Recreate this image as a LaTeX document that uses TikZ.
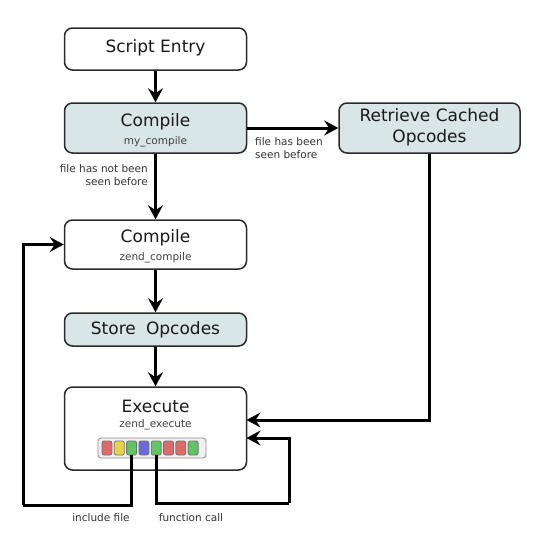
\documentclass[tikz,border=0pt]{standalone}
\usepackage{fontspec}
\setmainfont{DejaVu Sans}
\usetikzlibrary{arrows.meta}
\definecolor{boxfill}{HTML}{D8E6E5}
\definecolor{boxline}{HTML}{2A2A2A}
\definecolor{cred}{HTML}{E06A6A}
\definecolor{cyel}{HTML}{E8D44A}
\definecolor{cgrn}{HTML}{62C462}
\definecolor{cblu}{HTML}{6A6AD8}
\tikzset{
  box/.style={draw=boxline, line width=1.5pt, rounded corners=8pt, minimum width=182pt, inner sep=0pt},
  shaded/.style={box, fill=boxfill},
  plain/.style={box, fill=white},
  title/.style={font=\fontsize{17}{19}\selectfont, inner sep=0pt, text=black!90},
  sub/.style={font=\fontsize{10.5}{12}\selectfont, inner sep=0pt, text=black!75},
  lbl/.style={font=\fontsize{10.5}{13}\selectfont, inner sep=0pt, text=black!80},
  conn/.style={line width=3pt, -{Stealth[length=14pt,width=15pt,inset=5pt]}},
  line/.style={line width=3pt},
  cell/.style={draw=black!55, line width=0.8pt, rounded corners=2pt, minimum width=10pt, minimum height=14pt, inner sep=0pt},
}
\begin{document}
\begin{tikzpicture}[x=1pt,y=-1pt]
\useasboundingbox[fill=white] (0,0) rectangle (538,555);

% boxes
\node[plain, minimum height=42pt] (script) at (155.5,49) {};
\node[title] (scriptT) at (155.5,48) {Script Entry};

\node[shaded, minimum height=50pt] (comp1) at (155.5,128) {};
\node[title] (comp1T) at (155.5,122) {Compile};
\node[sub] (comp1S) at (155.5,142) {my\_compile};

\node[shaded, minimum height=50pt, minimum width=181pt] (retr) at (429.5,128) {};
\node[title, align=center] (retrT) at (429.5,127) {Retrieve Cached\\[2pt]Opcodes};

\node[plain, minimum height=49pt] (comp2) at (155.5,244.5) {};
\node[title] (comp2T) at (155.5,238) {Compile};
\node[sub] (comp2S) at (155.5,258) {zend\_compile};

\node[shaded, minimum height=33pt] (store) at (155.5,329.5) {};
\node[title] (storeT) at (155.5,330) {Store\hspace{0.6em}Opcodes};

\node[plain, minimum height=83pt] (exec) at (155.5,428.5) {};
\node[title] (execT) at (155.5,406) {Execute};
\node[sub] (execS) at (155.5,425) {zend\_execute};

% opcode bar
\node[draw=black!45, fill=black!6, line width=0.8pt, rounded corners=3pt, minimum width=108pt, minimum height=20pt, inner sep=0pt] (bar) at (152,448) {};
\node[cell, fill=cred] (c1) at (107,448) {};
\node[cell, fill=cyel] (c2) at (119.3,448) {};
\node[cell, fill=cgrn] (c3) at (131.6,448) {};
\node[cell, fill=cblu] (c4) at (143.9,448) {};
\node[cell, fill=cgrn] (c5) at (156.2,448) {};
\node[cell, fill=cred] (c6) at (168.5,448) {};
\node[cell, fill=cred] (c7) at (180.8,448) {};
\node[cell, fill=cgrn] (c8) at (193.1,448) {};

% coordinates
\coordinate (e1) at (246.5,420);
\coordinate (e2) at (246.5,438);
\coordinate (fcturn) at (289,503);
\coordinate (incturn) at (23,505);

% connectors
\draw[conn] (script) -- (comp1);
\draw[conn] (comp1) -- (comp2);
\draw[conn] (comp1.east) -- (retr.west);
\draw[conn] (comp2) -- (store);
\draw[conn] (store) -- (exec);
\draw[conn] (retr.south) |- (e1);
\draw[line] (c5.south) |- (fcturn);
\draw[conn] (fcturn) |- (e2);
\draw[line] (c3.south) |- (incturn);
\draw[conn] (incturn) |- (comp2.west);

% labels
\node[lbl, anchor=east, align=right] (l1) at (148,175) {file has not been\\seen before};
\node[lbl, anchor=west, align=left] (l2) at (255,148.5) {file has been\\seen before};
\node[lbl] (l3) at (101,518) {include file};
\node[lbl] (l4) at (191,518) {function call};
\end{tikzpicture}
\end{document}
